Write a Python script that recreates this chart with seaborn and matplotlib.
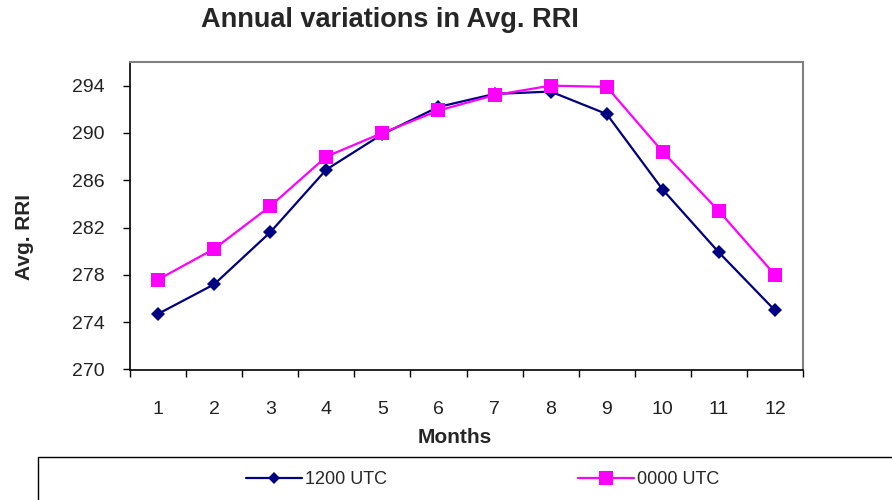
import matplotlib
matplotlib.use("Agg")
import matplotlib.pyplot as plt
from matplotlib.patches import Rectangle
import seaborn as sns
import pandas as pd

months = list(range(1, 13))
utc_1200 = [274.7, 277.2, 281.6, 286.9, 289.9, 292.2, 293.3, 293.5, 291.6, 285.2, 279.9, 275.0]
utc_0000 = [277.6, 280.2, 283.8, 288.0, 290.0, 291.9, 293.2, 294.0, 293.9, 288.4, 283.4, 278.0]
series_names = ["1200 UTC", "0000 UTC"]
y_ticks = [270, 274, 278, 282, 286, 290, 294]

df = pd.concat([
    pd.DataFrame({"Month": months, "RRI": utc_1200, "Series": series_names[0]}),
    pd.DataFrame({"Month": months, "RRI": utc_0000, "Series": series_names[1]}),
])

sns.set_theme(style="white")
plt.rcParams["font.family"] = ["Liberation Sans", "DejaVu Sans"]

fig = plt.figure(figsize=(8.92, 5.0), dpi=100)
L, R, T, B = 130, 803, 62, 369.5
ax = fig.add_axes([L / 892, 1 - B / 500, (R - L) / 892, (B - T) / 500])

palette = {series_names[0]: "#000080", series_names[1]: "#FF00FF"}
markers = {series_names[0]: "D", series_names[1]: "s"}
sns.lineplot(data=df, x="Month", y="RRI", hue="Series", style="Series",
             palette=palette, markers=markers, dashes=False, ax=ax,
             linewidth=1.6, markeredgewidth=0, legend=False)
for line, ms in zip(ax.lines, [7.5, 10.5]):
    line.set_markersize(ms)

ax.set_xlim(0.5, 12.5)
ax.set_ylim(270, 296)
ax.set_xticks(months)
ax.set_xticklabels([str(m) for m in months])
ax.set_xticks([m + 0.5 for m in range(0, 13)], minor=True)
ax.set_yticks(y_ticks)
ax.tick_params(axis="x", which="major", length=0, pad=22.5, labelsize=14, labelcolor="#222222")
ax.tick_params(axis="x", which="minor", length=5, width=1, direction="out", bottom=True, color="black")
ax.tick_params(axis="y", which="major", length=5, width=1, direction="out", left=True,
               labelsize=14, pad=13.5, labelcolor="#222222", color="black")

for side in ["left", "bottom"]:
    ax.spines[side].set_color("black")
    ax.spines[side].set_linewidth(1.2)
for side in ["top", "right"]:
    ax.spines[side].set_color("#808080")
    ax.spines[side].set_linewidth(1.5)

ax.set_xlabel("Months", fontsize=15, fontweight="bold", va="center")
ax.xaxis.set_label_coords((455 - L) / (R - L), (B - 437.5) / (B - T))
ax.set_ylabel("Avg. RRI", fontsize=15, fontweight="bold", va="center")
ax.yaxis.set_label_coords((25 - L) / (R - L), (B - 237) / (B - T))

fig.text(390 / 892, 1 - 20 / 500, "Annual variations in Avg. RRI", ha="center", va="center",
         fontsize=19.5, fontweight="bold")

# legend frame (extends past the figure edge)
fig.patches.append(Rectangle((38 / 892, -0.05), 0.98, (1 - 457 / 500) + 0.05,
                             transform=fig.transFigure, fill=False, edgecolor="black", linewidth=1))
handles = [plt.Line2D([], [], color="#000080", marker="D", markersize=6, linewidth=1.6, markeredgewidth=0),
           plt.Line2D([], [], color="#FF00FF", marker="s", markersize=9.5, linewidth=1.6, markeredgewidth=0)]
fig.legend(handles, series_names, loc="center left", bbox_to_anchor=(246 / 892, 1 - 480 / 500),
           ncol=2, frameon=False, fontsize=13, handlelength=3.1, handletextpad=0.17,
           columnspacing=10.6, borderpad=0, borderaxespad=0)

fig.savefig("out.png", dpi=100)
